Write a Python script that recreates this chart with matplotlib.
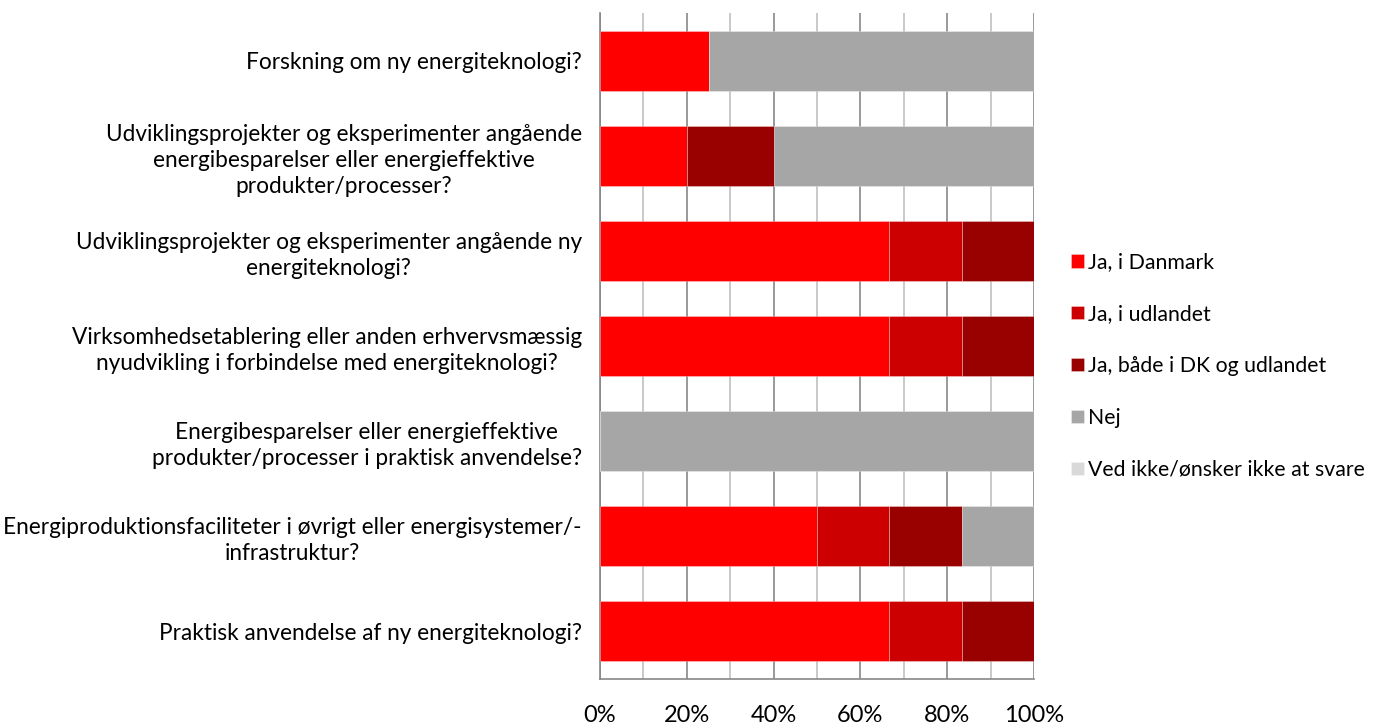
import matplotlib
matplotlib.use("Agg")
import matplotlib.pyplot as plt
import numpy as np

categories = [
    "Forskning om ny energiteknologi?",
    "Udviklingsprojekter og eksperimenter angående\nenergibesparelser eller energieffektive\nprodukter/processer?",
    "Udviklingsprojekter og eksperimenter angående ny\nenergiteknologi?",
    "Virksomhedsetablering eller anden erhvervsmæssig\nnyudvikling i forbindelse med energiteknologi?",
    "Energibesparelser eller energieffektive\nprodukter/processer i praktisk anvendelse?",
    "Energiproduktionsfaciliteter i øvrigt eller energisystemer/-\ninfrastruktur?",
    "Praktisk anvendelse af ny energiteknologi?",
]
series_names = ["Ja, i Danmark", "Ja, i udlandet", "Ja, både i DK og udlandet", "Nej",
                "Ved ikke/ønsker ikke at svare"]
ja_dk = [25.0, 20.0, 66.67, 66.67, 0.0, 50.0, 66.67]
ja_udl = [0.0, 0.0, 16.67, 16.67, 0.0, 16.67, 16.67]
ja_begge = [0.0, 20.0, 16.67, 16.67, 0.0, 16.67, 16.67]
nej = [75.0, 60.0, 0.0, 0.0, 100.0, 16.67, 0.0]
ved_ikke = [0.0, 0.0, 0.0, 0.0, 0.0, 0.0, 0.0]
colors = ["#FF0000", "#CC0000", "#990000", "#A6A6A6", "#D9D9D9"]
xticks = [0, 20, 40, 60, 80, 100]
xticklabels = ["0%", "20%", "40%", "60%", "80%", "100%"]

plt.rcParams['font.family'] = ['Lato', 'DejaVu Sans']

fig = plt.figure(figsize=(13.74, 7.24), dpi=100)
ax = fig.add_axes([600/1374, 1-679/724, 434/1374, 666/724])

n = len(categories)
y = np.arange(n)
left = np.zeros(n)
handles = []
for vals, name, c in zip([ja_dk, ja_udl, ja_begge, nej, ved_ikke], series_names, colors):
    vals = np.array(vals)
    b = ax.barh(y, vals, left=left, height=0.63, color=c, edgecolor=(1, 1, 1, 0.35),
                linewidth=0.6, label=name, zorder=3)
    handles.append(b)
    left += vals

ax.set_xlim(0, 100)
ax.set_ylim(n - 0.5, -0.5)
ax.set_xticks(xticks)
ax.set_xticklabels(xticklabels, fontsize=17)
ax.set_xticks(np.arange(10, 100, 20), minor=True)
ax.xaxis.grid(True, which='major', color='#878787', linewidth=1.2, zorder=0)
ax.xaxis.grid(True, which='minor', color='#C0C0C0', linewidth=1.2, zorder=0)
ax.tick_params(axis='x', which='both', length=0, pad=19)
ax.set_yticks(y)
ax.set_yticklabels(categories, fontsize=16.3, multialignment='center', linespacing=1.3)
ax.tick_params(axis='y', length=0, pad=13)
for s in ['top', 'right']:
    ax.spines[s].set_visible(False)
ax.spines['left'].set_color('#878787')
ax.spines['left'].set_linewidth(1.2)
ax.spines['bottom'].set_color('#878787')
ax.spines['bottom'].set_linewidth(1.2)
ax.set_axisbelow(True)

leg = fig.legend(handles=handles, labels=series_names, loc='center left',
                 bbox_to_anchor=(1052/1374, 1-366/724), frameon=False, fontsize=15.3,
                 handlelength=0.6, handleheight=0.6, handletextpad=0.2, labelspacing=1.5)

fig.savefig("out.png", dpi=100)
